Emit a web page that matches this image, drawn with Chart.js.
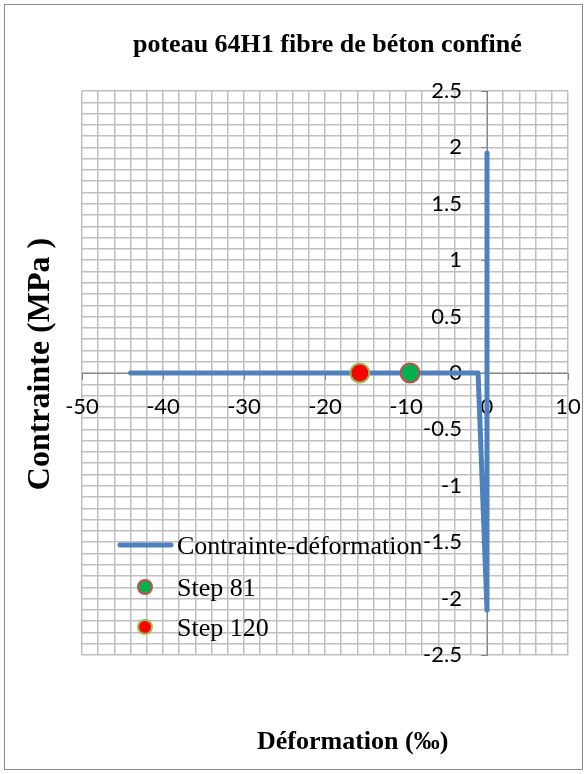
<!DOCTYPE html>
<html>
<head>
<meta charset="utf-8">
<script src="https://cdn.jsdelivr.net/npm/chart.js@4/dist/chart.umd.min.js"></script>
<style>
  html, body { margin: 0; padding: 0; background: #ffffff; }
  canvas { display: block; }
</style>
</head>
<body>
<canvas id="chart" width="587" height="774"></canvas>
<script>
// Stress-strain path of the confined concrete fibre (strain in ‰, stress in MPa)
const strain = [0, 0, -1.1, -44];
const stress = [1.95, -2.1, 0, 0];

// Fibre state at the two recorded analysis steps
const step81Strain = [-9.5];
const step81Stress = [0];
const step120Strain = [-15.7];
const step120Stress = [0];

const titleText = 'poteau 64H1 fibre de béton confiné';
const xTitle = 'Déformation (‰)';
const yTitle = 'Contrainte (MPa )';
const seriesNames = ['Contrainte-déformation', 'Step 81', 'Step 120'];

const toPoints = (xs, ys) => xs.map((x, i) => ({ x: x, y: ys[i] }));
const plainNumber = (v) => String(Math.round(v * 10) / 10);

const tickFont = { family: 'Lato', size: 22 };
const serif = '"Liberation Serif", "Times New Roman", serif';

// Titles, legend and outer frame drawn around the plot
const decorations = {
  id: 'decorations',
  beforeDraw(chart) {
    const ctx = chart.ctx;
    ctx.save();
    ctx.fillStyle = '#ffffff';
    ctx.fillRect(0, 0, chart.width, chart.height);
    ctx.strokeStyle = '#8c8c8c';
    ctx.lineWidth = 1;
    ctx.strokeRect(4.5, 4.5, chart.width - 9, chart.height - 9);
    ctx.restore();
  },
  afterDraw(chart) {
    const ctx = chart.ctx;
    const ds = chart.data.datasets;
    ctx.save();
    ctx.fillStyle = '#000000';
    ctx.textAlign = 'left';
    ctx.textBaseline = 'alphabetic';

    ctx.font = 'bold 26px ' + serif;
    ctx.fillText(titleText, 133, 52);
    ctx.fillText(xTitle, 257, 749);

    ctx.save();
    ctx.font = 'bold 32px ' + serif;
    ctx.translate(49, 364);
    ctx.rotate(-Math.PI / 2);
    ctx.textAlign = 'center';
    ctx.fillText(yTitle, 0, 0);
    ctx.restore();

    // legend
    ctx.font = '26px ' + serif;
    const rows = [545, 587, 627];
    ctx.strokeStyle = ds[0].borderColor;
    ctx.lineWidth = ds[0].borderWidth;
    ctx.lineCap = 'round';
    ctx.beginPath();
    ctx.moveTo(120, rows[0]);
    ctx.lineTo(171, rows[0]);
    ctx.stroke();
    for (let i = 1; i < 3; i++) {
      ctx.beginPath();
      ctx.arc(145, rows[i], 7, 0, Math.PI * 2);
      ctx.fillStyle = ds[i].backgroundColor;
      ctx.fill();
      ctx.lineWidth = 2;
      ctx.strokeStyle = ds[i].borderColor;
      ctx.stroke();
    }
    ctx.fillStyle = '#000000';
    ctx.fillText(ds[0].label, 177, rows[0] + 9);
    ctx.fillText(ds[1].label, 177, rows[1] + 9);
    ctx.fillText(ds[2].label, 177, rows[2] + 9);
    ctx.restore();
  }
};

function draw() {
  new Chart(document.getElementById('chart'), {
    type: 'scatter',
    data: {
      datasets: [
        {
          label: seriesNames[0],
          data: toPoints(strain, stress),
          showLine: true,
          borderColor: '#4f81bd',
          backgroundColor: '#4f81bd',
          borderWidth: 5,
          borderJoinStyle: 'round',
          borderCapStyle: 'round',
          pointRadius: 0,
          order: 3
        },
        {
          label: seriesNames[1],
          data: toPoints(step81Strain, step81Stress),
          backgroundColor: '#00b050',
          borderColor: '#c0504d',
          borderWidth: 2,
          pointRadius: 9.5,
          order: 2
        },
        {
          label: seriesNames[2],
          data: toPoints(step120Strain, step120Stress),
          backgroundColor: '#ff0000',
          borderColor: '#9bbb59',
          borderWidth: 2,
          pointRadius: 9.5,
          order: 1
        }
      ]
    },
    options: {
      responsive: false,
      animation: false,
      devicePixelRatio: 1,
      locale: 'en-US',
      layout: { padding: { left: 82, right: 19, top: 91, bottom: 119 } },
      plugins: {
        legend: { display: false },
        tooltip: { enabled: false },
        title: { display: false }
      },
      scales: {
        // minor grid
        xGrid: {
          type: 'linear', axis: 'x', min: -50, max: 10,
          position: { y: 0 },
          ticks: { stepSize: 2, display: false },
          grid: { color: '#bfbfbf', lineWidth: 1.5, drawTicks: false },
          border: { display: false }
        },
        yGrid: {
          type: 'linear', axis: 'y', min: -2.5, max: 2.5,
          position: { x: 0 },
          ticks: { stepSize: 0.1, display: false },
          grid: { color: '#bfbfbf', lineWidth: 1.5, drawTicks: false },
          border: { display: false }
        },
        // axis lines crossing at the origin
        x: {
          type: 'linear', min: -50, max: 10,
          position: { y: 0 },
          ticks: { stepSize: 10, display: false },
          grid: { drawOnChartArea: false, drawTicks: true, tickLength: 6, color: '#868686' },
          border: { display: true, color: '#868686', width: 1 }
        },
        y: {
          type: 'linear', min: -2.5, max: 2.5,
          position: { x: 0 },
          ticks: { stepSize: 0.5, display: false },
          grid: { drawOnChartArea: false, drawTicks: true, tickLength: 6, color: '#868686' },
          border: { display: true, color: '#868686', width: 1 }
        },
        // strain labels set below the horizontal axis
        xLabels: {
          type: 'linear', axis: 'x', min: -50, max: 10,
          position: { y: -0.186 },
          ticks: { stepSize: 10, font: tickFont, color: '#000000', padding: 0, maxRotation: 0, callback: plainNumber },
          grid: { display: false, drawTicks: false },
          border: { display: false }
        },
        // stress labels set just left of the vertical axis
        yLabels: {
          type: 'linear', axis: 'y', min: -2.5, max: 2.5,
          position: { x: -3.1 },
          ticks: { stepSize: 0.5, font: tickFont, color: '#000000', padding: 0, callback: plainNumber },
          grid: { display: false, drawTicks: false },
          border: { display: false }
        }
      }
    },
    plugins: [decorations]
  });
}

Promise.all([
  document.fonts.load('22px Lato'),
  document.fonts.load('26px "Liberation Serif"'),
  document.fonts.load('bold 26px "Liberation Serif"')
]).then(draw, draw);
</script>
</body>
</html>
